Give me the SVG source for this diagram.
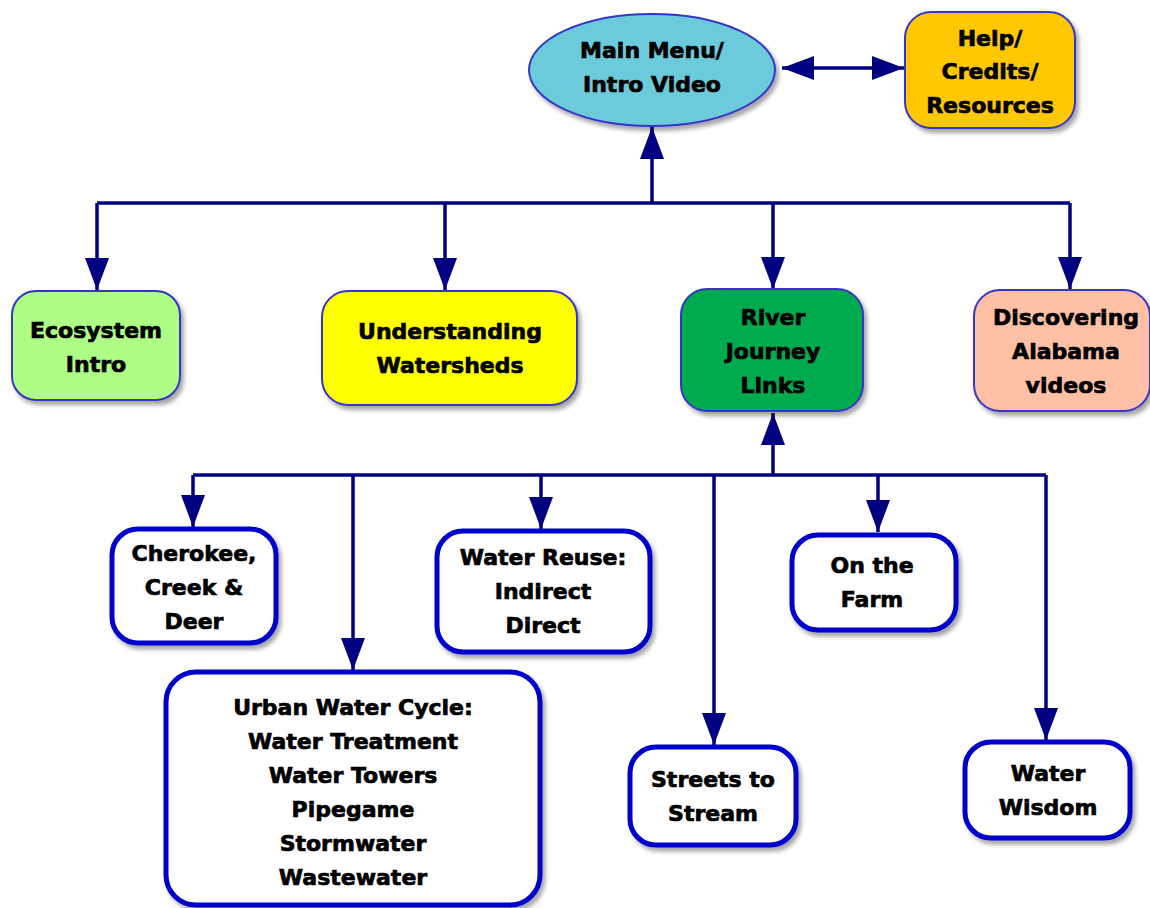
<svg xmlns="http://www.w3.org/2000/svg" width="1150" height="908" viewBox="0 0 1150 908">
<style>
.t{font-family:"DejaVu Sans","Liberation Sans",sans-serif;font-weight:bold;font-size:22px;fill:#000;stroke:#000;stroke-width:0.7;text-anchor:middle}
.thin{stroke:#3535c8;stroke-width:2}
.thick{fill:#fff;stroke:#0000cc;stroke-width:5}
.c{stroke:#000080;stroke-width:3.5;fill:none}
</style>
<defs>
<filter id="sh" x="-10%" y="-10%" width="125%" height="130%">
<feDropShadow dx="3" dy="4" stdDeviation="2" flood-color="#000" flood-opacity="0.35"/>
</filter>
<marker id="ah" viewBox="0 0 32 24" markerWidth="32" markerHeight="24" refX="32" refY="12" orient="auto-start-reverse" markerUnits="userSpaceOnUse">
<path d="M0,0 L32,12 L0,24 z" fill="#000080"/>
</marker>
</defs>
<rect width="1150" height="908" fill="#fff"/>
<g id="connectors">
<line class="c" x1="782" y1="68" x2="904" y2="68" marker-start="url(#ah)" marker-end="url(#ah)"/>
<line class="c" x1="652" y1="203" x2="652" y2="127" marker-end="url(#ah)"/>
<line class="c" x1="97" y1="203" x2="1070" y2="203"/>
<line class="c" x1="97" y1="203" x2="97" y2="290" marker-end="url(#ah)"/>
<line class="c" x1="445" y1="203" x2="445" y2="290" marker-end="url(#ah)"/>
<line class="c" x1="773" y1="203" x2="773" y2="289" marker-end="url(#ah)"/>
<line class="c" x1="1070" y1="203" x2="1070" y2="289" marker-end="url(#ah)"/>
<line class="c" x1="773" y1="475" x2="773" y2="413" marker-end="url(#ah)"/>
<line class="c" x1="193" y1="475" x2="1046" y2="475"/>
<line class="c" x1="193" y1="475" x2="193" y2="527" marker-end="url(#ah)"/>
<line class="c" x1="353" y1="475" x2="353" y2="670" marker-end="url(#ah)"/>
<line class="c" x1="541" y1="475" x2="541" y2="529" marker-end="url(#ah)"/>
<line class="c" x1="714" y1="475" x2="714" y2="745" marker-end="url(#ah)"/>
<line class="c" x1="878" y1="475" x2="878" y2="532" marker-end="url(#ah)"/>
<line class="c" x1="1046" y1="475" x2="1046" y2="740" marker-end="url(#ah)"/>
</g>
<g id="main-menu">
<ellipse cx="652" cy="70" rx="123" ry="56" fill="#6ccbda" class="thin" filter="url(#sh)"/>
<text class="t" x="652" y="58">Main Menu/</text>
<text class="t" x="652" y="92">Intro Video</text>
</g>
<g id="help">
<rect x="905" y="12" width="170" height="116" rx="26" fill="#ffc800" class="thin" filter="url(#sh)"/>
<text class="t" x="990" y="46">Help/</text>
<text class="t" x="990" y="79">Credits/</text>
<text class="t" x="990" y="113">Resources</text>
</g>
<g id="ecosystem">
<rect x="12" y="291" width="168" height="109" rx="24" fill="#aefd84" class="thin" filter="url(#sh)"/>
<text class="t" x="96" y="338">Ecosystem</text>
<text class="t" x="96" y="372">Intro</text>
</g>
<g id="watersheds">
<rect x="322" y="291" width="255" height="114" rx="26" fill="#ffff00" class="thin" filter="url(#sh)"/>
<text class="t" x="450" y="339">Understanding</text>
<text class="t" x="450" y="373">Watersheds</text>
</g>
<g id="river">
<rect x="681" y="289" width="182" height="122" rx="26" fill="#00aa4f" class="thin" filter="url(#sh)"/>
<text class="t" x="773" y="325">River</text>
<text class="t" x="773" y="359">Journey</text>
<text class="t" x="773" y="393">Links</text>
</g>
<g id="alabama">
<rect x="974" y="290" width="176" height="121" rx="26" fill="#ffc0a6" class="thin" filter="url(#sh)"/>
<text class="t" x="1066" y="325">Discovering</text>
<text class="t" x="1066" y="359">Alabama</text>
<text class="t" x="1066" y="393">videos</text>
</g>
<g id="cherokee">
<rect x="112" y="529" width="164" height="114" rx="26" class="thick" filter="url(#sh)"/>
<text class="t" x="194" y="561">Cherokee,</text>
<text class="t" x="194" y="595">Creek &amp;</text>
<text class="t" x="194" y="629">Deer</text>
</g>
<g id="reuse">
<rect x="437" y="531" width="213" height="121" rx="26" class="thick" filter="url(#sh)"/>
<text class="t" x="543" y="565">Water Reuse:</text>
<text class="t" x="543" y="599">Indirect</text>
<text class="t" x="543" y="633">Direct</text>
</g>
<g id="farm">
<rect x="792" y="535" width="164" height="95" rx="26" class="thick" filter="url(#sh)"/>
<text class="t" x="872" y="573">On the</text>
<text class="t" x="872" y="607">Farm</text>
</g>
<g id="urban">
<rect x="166" y="672" width="374" height="233" rx="30" class="thick" filter="url(#sh)"/>
<text class="t" x="353" y="715">Urban Water Cycle:</text>
<text class="t" x="353" y="749">Water Treatment</text>
<text class="t" x="353" y="783">Water Towers</text>
<text class="t" x="353" y="817">Pipegame</text>
<text class="t" x="353" y="851">Stormwater</text>
<text class="t" x="353" y="885">Wastewater</text>
</g>
<g id="streets">
<rect x="630" y="747" width="166" height="98" rx="26" class="thick" filter="url(#sh)"/>
<text class="t" x="713" y="787">Streets to</text>
<text class="t" x="713" y="821">Stream</text>
</g>
<g id="wisdom">
<rect x="965" y="742" width="165" height="96" rx="26" class="thick" filter="url(#sh)"/>
<text class="t" x="1048" y="781">Water</text>
<text class="t" x="1048" y="815">Wisdom</text>
</g>
</svg>
